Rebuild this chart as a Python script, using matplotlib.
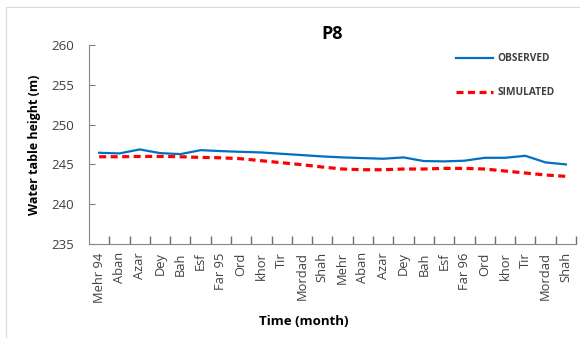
import matplotlib.pyplot as plt
from matplotlib.patches import Rectangle

months = ['Mehr 94', 'Aban', 'Azar', 'Dey', 'Bah', 'Esf', 'Far 95', 'Ord',
          'khor', 'Tir', 'Mordad', 'Shah', 'Mehr', 'Aban', 'Azar', 'Dey',
          'Bah', 'Esf', 'Far 96', 'Ord', 'khor', 'Tir', 'Mordad', 'Shah']
observed = [246.46, 246.38, 246.88, 246.42, 246.29, 246.79, 246.67, 246.58,
            246.50, 246.33, 246.17, 246.00, 245.88, 245.79, 245.71, 245.88,
            245.42, 245.38, 245.46, 245.83, 245.83, 246.08, 245.25, 245.00]
simulated = [245.96, 245.96, 246.00, 246.00, 245.96, 245.88, 245.83, 245.71,
             245.46, 245.21, 244.96, 244.67, 244.42, 244.33, 244.33, 244.42,
             244.42, 244.50, 244.50, 244.42, 244.17, 243.92, 243.67, 243.50]

plt.rcParams['font.family'] = ['Open Sans', 'DejaVu Sans']

fig = plt.figure(figsize=(5.8, 3.38), dpi=100)
fig.patches.append(Rectangle((6 / 580, -0.1), 1.2, 1 - 7 / 338 + 0.1,
                             transform=fig.transFigure, fill=False,
                             edgecolor='#d9d9d9', lw=0.8))
ax = fig.add_axes([89 / 580, 1 - 244 / 338, 487 / 580, 199 / 338])

x = list(range(len(months)))
ax.plot(x, observed, color='#0070C0', lw=1.6, label='OBSERVED')
ax.plot(x, simulated, color='#FF0000', lw=2.3, ls=(0, (2.2, 1.4)),
        label='SIMULATED')

ax.set_xlim(-0.5, len(months) - 0.5)
ax.set_ylim(235, 260)
ax.set_yticks(range(235, 261, 5))
ax.set_xticks([i - 0.5 for i in range(1, len(months) + 1)])
ax.set_xticklabels([])
ax.set_xticks(x, minor=True)
ax.set_xticklabels(months, minor=True, rotation=90, fontsize=9.3,
                   color='#404040')
ax.tick_params(axis='x', which='major', direction='in', length=6,
               width=1.0, color='#6f6f6f')
ax.tick_params(axis='x', which='minor', length=0, pad=6)
ax.tick_params(axis='y', direction='in', length=4, width=0.8,
               color='#7f7f7f', labelsize=9.5, labelcolor='#404040', pad=11)

for side in ['top', 'right']:
    ax.spines[side].set_visible(False)
for side in ['left', 'bottom']:
    ax.spines[side].set_color('#868686')
    ax.spines[side].set_linewidth(0.8)

ax.set_title('P8', fontsize=13, fontweight='bold', pad=4)
ax.set_ylabel('Water table height (m)', fontsize=9, fontweight='bold',
              labelpad=7)
ax.set_xlabel('Time (month)', fontsize=9.5, fontweight='bold')
ax.xaxis.set_label_coords(0.44, -0.355)

ax.legend(loc='upper left', bbox_to_anchor=(447 / 580, 1 - 44 / 338),
          bbox_transform=fig.transFigure, frameon=False,
          labelspacing=2.3, handlelength=3.6,
          handletextpad=0.45, labelcolor='#404040',
          prop={'weight': 'bold', 'size': 7.3})

fig.savefig('out.png', dpi=100)
